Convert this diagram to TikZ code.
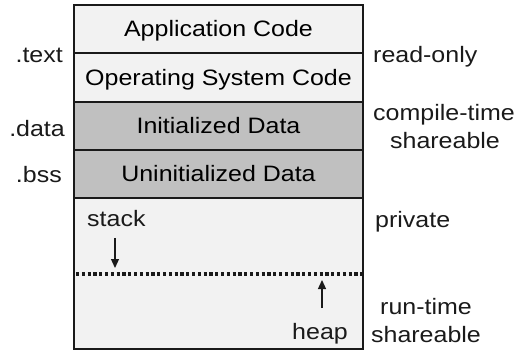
\documentclass[tikz,border=0pt]{standalone}
\usepackage{fontspec}
\setmainfont{Liberation Sans}[FakeStretch=1.12]
\usetikzlibrary{arrows.meta}
\definecolor{ink}{HTML}{1A1A1A}
\definecolor{lightfill}{HTML}{F2F2F2}
\definecolor{darkfill}{HTML}{C0C0C0}

\begin{document}
\begin{tikzpicture}[x=1pt, y=-1pt,
  font=\fontsize{22.3}{26}\selectfont,
  segment/.style={draw=ink, line width=1.4pt, minimum width=289pt,
    inner sep=0pt, outer sep=0pt, text height=16pt, text depth=0pt},
  lightseg/.style={segment, fill=lightfill},
  darkseg/.style={segment, fill=darkfill},
  tag/.style={inner sep=0pt, text=ink},
  growth/.style={draw=ink, line width=1.3pt, -{Triangle[length=9pt, width=8pt]}},
  boundary/.style={draw=ink, line width=3.2pt, dash pattern=on 3.2pt off 2.6pt}
]
\useasboundingbox (0,0) rectangle (528,350);

% memory segments, top to bottom
\node[lightseg, minimum height=48pt] (app)    at (218.5,29)    {Application Code};
\node[lightseg, minimum height=49pt] (os)     at (218.5,77.5)  {Operating System Code};
\node[darkseg,  minimum height=48pt] (init)   at (218.5,126)   {Initialized Data};
\node[darkseg,  minimum height=48pt] (uninit) at (218.5,174)   {Uninitialized Data};
\node[lightseg, minimum height=151pt] (dyn)   at (218.5,273.5) {};

% stack / heap boundary
\coordinate (bl) at (76,274);
\coordinate (br) at (362,274);
\draw[boundary] (bl) -- (br);

\node[tag, anchor=base west] (stack) at (87,227) {stack};
\coordinate (stacktip) at (115,268);
\draw[growth] (115,238) -- (stacktip);

\node[tag, anchor=base east] (heap) at (348,339) {heap};
\coordinate (heaptip) at (322,280);
\draw[growth] (322,308) -- (heaptip);

% section names
\node[tag, anchor=base east] (text) at (63,63)  {.text};
\node[tag, anchor=base east] (data) at (65,137) {.data};
\node[tag, anchor=base east] (bss)  at (62,183) {.bss};

% access properties
\node[tag, anchor=base west] (ro)    at (373,63)  {read-only};
\node[tag, anchor=base]      (ct)    at (444,121) {compile-time};
\node[tag, anchor=base]      (ctsh)  at (445,149) {shareable};
\node[tag, anchor=base west] (priv)  at (375,228) {private};
\node[tag, anchor=base]      (rt)    at (426,314) {run-time};
\node[tag, anchor=base]      (rtsh)  at (426,342) {shareable};
\end{tikzpicture}
\end{document}
